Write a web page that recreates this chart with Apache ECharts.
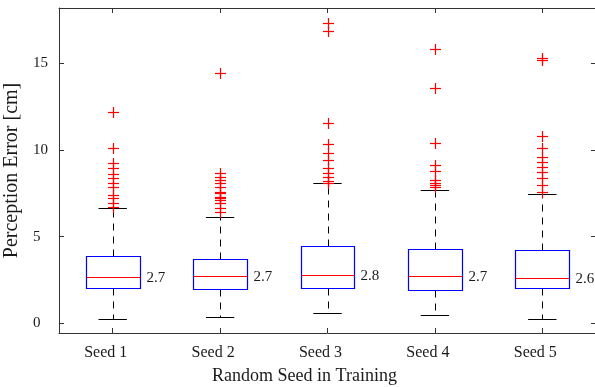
<!DOCTYPE html>
<html>
<head>
<meta charset="utf-8">
<script src="https://cdn.jsdelivr.net/npm/echarts@6/dist/echarts.min.js"></script>
<style>
  html, body { margin: 0; padding: 0; background: #fff; }
  #chart { width: 595px; height: 387px; }
</style>
</head>
<body>
<div id="chart"></div>
<script>
// Perception error per training seed: box statistics (cm)
const categories   = ['Seed 1', 'Seed 2', 'Seed 3', 'Seed 4', 'Seed 5'];
const lowerWhisker = [0.27, 0.38, 0.59, 0.48, 0.27];
const quartile1    = [2.02, 2.00, 2.04, 1.94, 2.02];
const medians      = [2.67, 2.73, 2.77, 2.73, 2.64];
const quartile3    = [3.90, 3.73, 4.44, 4.28, 4.21];
const upperWhisker = [6.63, 6.15, 8.07, 7.69, 7.46];

// Outliers per seed
const outliers1 = [12.17, 10.13, 9.23, 8.97, 8.62, 8.36, 8.11, 7.88, 7.40, 7.21, 6.92, 6.72];
const outliers2 = [14.42, 8.65, 8.46, 8.26, 8.10, 7.88, 7.59, 7.50, 7.30, 7.21, 7.11, 6.92, 6.63, 6.44];
const outliers3 = [17.34, 16.87, 11.53, 10.34, 9.80, 9.42, 8.94, 8.69, 8.46, 8.21, 8.10];
const outliers4 = [15.80, 13.55, 10.38, 9.13, 8.78, 8.26, 8.11, 7.98, 7.84];
const outliers5 = [15.32, 15.18, 10.80, 10.13, 9.61, 9.28, 9.03, 8.74, 8.36, 7.98, 7.59];
const outlierSets = [outliers1, outliers2, outliers3, outliers4, outliers5];

const yTicks = [0, 5, 10, 15];
const xTicks = [1, 2, 3, 4, 5];

const FONT = 'Liberation Serif';
const AXIS_COLOR = '#333333';

const boxData = categories.map((c, i) => [i + 1, lowerWhisker[i], quartile1[i], medians[i], quartile3[i], upperWhisker[i]]);
const outlierData = [];
outlierSets.forEach((set, i) => set.forEach(v => outlierData.push([i + 1, v])));

const BOX_HALF = 0.25;
const CAP_HALF = 0.132;

// snap a coordinate to the pixel centre so 1px strokes stay crisp
const snap = v => Math.round(v) + 0.5;

function renderBox(params, api) {
  const x = api.value(0);
  const lo = api.value(1), q1 = api.value(2), md = api.value(3), q3 = api.value(4), hi = api.value(5);
  const xL = snap(api.coord([x - BOX_HALF, 0])[0]);
  const xR = snap(api.coord([x + BOX_HALF, 0])[0]);
  const cx = snap(api.coord([x, 0])[0]);
  const yQ3 = snap(api.coord([x, q3])[1]);
  const yQ1 = snap(api.coord([x, q1])[1]);
  const yMd = snap(api.coord([x, md])[1]);
  const yLo = snap(api.coord([x, lo])[1]);
  const yHi = snap(api.coord([x, hi])[1]);
  const capL = api.coord([x - CAP_HALF, 0])[0];
  const capR = api.coord([x + CAP_HALF, 0])[0];
  const dash = { stroke: '#000', lineWidth: 1, lineDash: [7, 6] };
  const solid = { stroke: '#000', lineWidth: 1 };
  return {
    type: 'group',
    children: [
      { type: 'line', shape: { x1: cx, y1: yQ3, x2: cx, y2: yHi }, style: dash },
      { type: 'line', shape: { x1: cx, y1: yQ1, x2: cx, y2: yLo }, style: dash },
      { type: 'line', shape: { x1: capL, y1: yHi, x2: capR, y2: yHi }, style: solid },
      { type: 'line', shape: { x1: capL, y1: yLo, x2: capR, y2: yLo }, style: solid },
      { type: 'rect', shape: { x: xL, y: yQ3, width: xR - xL, height: yQ1 - yQ3 },
        style: { fill: 'none', stroke: '#0000ff', lineWidth: 1.2 } },
      { type: 'line', shape: { x1: xL, y1: yMd, x2: xR, y2: yMd },
        style: { stroke: '#ff0000', lineWidth: 1.2 } },
      { type: 'text', x: xR + 6, y: yMd + 1,
        style: { text: md.toFixed(1), fill: '#1a1a1a', font: '15px "' + FONT + '"',
                 textAlign: 'left', textVerticalAlign: 'middle' } }
    ]
  };
}

function renderPlus(params, api) {
  const p = api.coord([api.value(0), api.value(1)]);
  const px = snap(p[0]), py = snap(p[1]);
  const h = 5.5;
  const st = { stroke: '#ff0000', lineWidth: 1.2 };
  return {
    type: 'group',
    children: [
      { type: 'line', shape: { x1: px - h, y1: py, x2: px + h, y2: py }, style: st },
      { type: 'line', shape: { x1: px, y1: py - h, x2: px, y2: py + h }, style: st }
    ]
  };
}

const chart = echarts.init(document.getElementById('chart'), null, { renderer: 'canvas' });

const xCommon = {
  type: 'value', min: 0.5, max: 5.5,
  axisLine: { show: true, onZero: false, lineStyle: { color: AXIS_COLOR, width: 1 } },
  axisTick: { show: true, inside: true, length: 5, customValues: xTicks, lineStyle: { color: AXIS_COLOR } },
  splitLine: { show: false }
};
const yCommon = {
  type: 'value', min: -0.56, max: 18.18,
  axisLine: { show: true, onZero: false, lineStyle: { color: AXIS_COLOR, width: 1 } },
  axisTick: { show: true, inside: true, length: 5, customValues: yTicks, lineStyle: { color: AXIS_COLOR } },
  splitLine: { show: false }
};

chart.setOption({
  animation: false,
  backgroundColor: '#ffffff',
  grid: { left: 59, right: -1, top: 8, bottom: 54, containLabel: false, outerBoundsMode: 'none' },
  xAxis: [
    Object.assign({}, xCommon, {
      position: 'bottom',
      name: 'Random Seed in Training', nameLocation: 'middle', nameGap: 34,
      nameTextStyle: { fontFamily: FONT, fontSize: 18, color: '#1a1a1a', padding: [0, 46, 0, 0] },
      axisLabel: { show: true, customValues: xTicks, margin: 12, fontFamily: FONT, fontSize: 16, color: '#1a1a1a',
                   padding: [0, 14, 0, 0],
                   formatter: v => categories[Math.round(v) - 1] || '' }
    }),
    Object.assign({}, xCommon, { position: 'top', axisLabel: { show: false } })
  ],
  yAxis: [
    Object.assign({}, yCommon, {
      position: 'left',
      name: 'Perception Error [cm]', nameLocation: 'middle', nameGap: 19,
      nameTextStyle: { fontFamily: FONT, fontSize: 20, color: '#1a1a1a' },
      axisLabel: { show: true, customValues: yTicks, margin: 26, align: 'left',
                   fontFamily: FONT, fontSize: 15, color: '#1a1a1a' }
    }),
    Object.assign({}, yCommon, {
      position: 'right', axisLabel: { show: false },
      axisLine: { show: false }
    })
  ],
  series: [
    { type: 'custom', xAxisIndex: 0, yAxisIndex: 0, renderItem: renderBox, data: boxData, clip: false,
      encode: { x: 0, y: [1, 2, 3, 4, 5] } },
    { type: 'custom', xAxisIndex: 0, yAxisIndex: 0, renderItem: renderPlus, data: outlierData,
      encode: { x: 0, y: 1 } }
  ]
});
</script>
</body>
</html>
